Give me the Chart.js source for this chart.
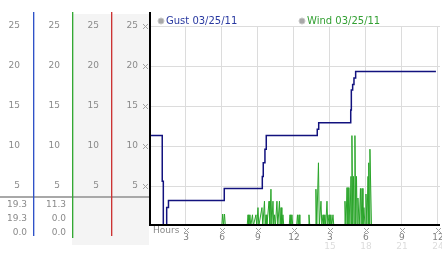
<!DOCTYPE html>
<html>
<head>
<meta charset="utf-8">
<script src="https://cdn.jsdelivr.net/npm/chart.js@4"></script>
<style>
  body { margin: 0; background: #fff; }
  canvas { display: block; }
</style>
</head>
<body>
<canvas id="chart" width="442" height="253"></canvas>
<script>
// gust: step line, value changes at these hours
const gustHours  = [0, 1.02, 1.11, 1.39, 1.54, 6.19, 9.36, 9.44, 9.58, 9.69, 13.94, 14.06, 16.73, 16.78, 16.89, 17.0, 17.14, 23.83];
const gustValues = [11.3, 5.6, 0, 2.3, 3.2, 4.7, 6.2, 7.9, 9.6, 11.3, 12.1, 12.9, 14.5, 17.0, 17.7, 18.5, 19.3, 19.3];

// wind: spiky samples
const windHours = [
  0, 5.99, 6.06, 6.13, 6.21, 6.28,
  8.10, 8.17, 8.24, 8.33, 8.40, 8.54, 8.61, 8.83, 8.90,
  9.00, 9.07, 9.33, 9.40, 9.54, 9.60, 9.67, 9.74, 9.92, 9.99,
  10.08, 10.15, 10.25, 10.31, 10.38, 10.45, 10.58, 10.65, 10.79, 10.85, 10.92, 10.99, 11.08, 11.15,
  11.60, 11.67, 11.74, 11.83, 11.90, 12.22, 12.29, 12.35, 12.42, 12.49,
  13.18, 13.25, 13.32, 13.76, 13.83, 13.90, 14.04, 14.11, 14.25, 14.32,
  14.42, 14.49, 14.58, 14.65, 14.75, 14.82, 14.92, 14.99, 15.08, 15.15, 15.25, 15.32,
  16.18, 16.25, 16.33, 16.42, 16.50, 16.58, 16.66, 16.75, 16.79, 16.83, 16.90,
  16.96, 17.02, 17.08, 17.15, 17.21, 17.27, 17.33, 17.44, 17.54, 17.60, 17.67, 17.75,
  17.83, 17.92, 18.00, 18.08, 18.17, 18.21, 18.25, 18.29, 18.33, 18.46, 24.0
];
const windValues = [
  0, 0, 1.5, 0, 1.5, 0,
  0, 1.4, 0, 1.4, 0, 1.4, 0, 1.4, 0,
  2.3, 0, 2.3, 0, 3.1, 0, 1.4, 0, 3.1, 0,
  4.6, 0, 3.1, 0, 1.4, 0, 3.1, 0, 3.1, 0, 2.3, 0, 1.4, 0,
  0, 1.4, 0, 1.4, 0, 0, 1.4, 0, 1.4, 0,
  0, 1.4, 0, 0, 4.6, 0, 7.9, 0, 3.1, 0,
  1.4, 0, 1.4, 0, 3.1, 0, 1.4, 0, 1.4, 0, 1.4, 0,
  0, 3.1, 0, 4.8, 0, 4.8, 0, 6.2, 0, 11.3, 0,
  6.2, 0, 11.3, 0, 6.2, 0, 3.5, 0, 4.7, 0, 4.7, 0,
  2.3, 0, 4.0, 0, 6.2, 0, 7.9, 0, 9.6, 0, 0
];

const yTicks = [5, 10, 15, 20, 25];
const xTicks = [3, 6, 9, 12, 15, 18, 21, 24];
const xTickLabels = ['3', '6', '9', '12', '3', '6', '9', '12'];
const x2Ticks = [15, 18, 21, 24];
const x2TickLabels = ['15', '18', '21', '24'];

const gustSummary = ['19.3', '19.3', '0.0'];
const windSummary = ['11.3', '0.0', '0.0'];

const FONT = 'DejaVu Sans';
const X_MAX = 24.17;

const xMark = (ctx, cx, cy) => {
  ctx.fillStyle = '#a0a0a0';
  const pts = [[-2, -2], [2, -2], [-1, -1], [1, -1], [0, 0], [-1, 1], [1, 1], [-2, 2], [2, 2]];
  for (const [dx, dy] of pts) ctx.fillRect(Math.round(cx) + dx, Math.round(cy) + dy, 1, 1);
};

const leftAxis = (weight, width, pad, main) => ({
  type: 'linear',
  position: 'left',
  weight: weight,
  min: 0,
  max: 25,
  afterBuildTicks: (s) => { s.ticks = yTicks.map(v => ({ value: v })); },
  afterFit: (s) => { s.width = width; s.paddingTop = 0; s.paddingBottom = 0; },
  grid: main ? { color: '#dcdcdc', lineWidth: 1, drawTicks: false } : { display: false, drawTicks: false },
  border: { display: false },
  ticks: { color: '#8a8a8a', padding: pad, font: { family: FONT, size: 9 }, callback: (v) => String(v) }
});

const panelPlugin = {
  id: 'panel',
  beforeDraw(chart) {
    const ctx = chart.ctx;
    const s = chart.scales;
    ctx.save();
    ctx.fillStyle = '#fff';
    ctx.fillRect(0, 0, chart.width, chart.height);
    // grey columns 3 and 4
    ctx.fillStyle = '#f4f4f4';
    ctx.fillRect(s.yb.right, 14, s.y.right - s.yb.right - 1, 231);
    ctx.restore();
  },
  afterDraw(chart) {
    const ctx = chart.ctx;
    const s = chart.scales;
    const area = chart.chartArea;
    ctx.save();

    // separator line under the tick columns
    ctx.fillStyle = '#a8a8a8';
    ctx.fillRect(0, 196, s.y.right - 1, 2);

    // coloured column lines
    const cols = [[s.ya.right, '#2f52c8', 236], [s.yb.right, '#33a833', 238], [s.yc.right, '#cc3333', 236]];
    for (const [x, c, b] of cols) {
      ctx.fillStyle = c;
      ctx.fillRect(Math.round(x), 12, 1, b - 12);
      ctx.globalAlpha = 0.35;
      ctx.fillRect(Math.round(x) + 1, 12, 1, b - 12);
      ctx.globalAlpha = 1;
    }

    // black value axis and baseline
    ctx.fillStyle = '#000';
    ctx.fillRect(area.left - 1, 12, 2, area.bottom - 12);
    ctx.fillRect(area.left - 1, area.bottom - 2, area.right - area.left + 1, 2);

    // marks beside ticks
    for (const v of yTicks) xMark(ctx, area.left - 5, s.y.getPixelForValue(v));
    for (const v of xTicks) xMark(ctx, s.x.getPixelForValue(v), 230);

    ctx.font = '9px "' + FONT + '"';
    ctx.textBaseline = 'middle';
    ctx.fillStyle = '#8a8a8a';
    ctx.textAlign = 'left';
    ctx.fillText('Hours', area.left + 3, 231);

    // summary numbers
    ctx.textAlign = 'right';
    const rows = [205, 219, 233];
    gustSummary.forEach((t, i) => ctx.fillText(t, s.ya.right - 6, rows[i]));
    windSummary.forEach((t, i) => ctx.fillText(t, s.yb.right - 6, rows[i]));

    // legend
    ctx.font = '10px "' + FONT + '"';
    ctx.textAlign = 'left';
    const legendPos = [[161, '#2838a0'], [302, '#33a033']];
    chart.data.datasets.forEach((ds, i) => {
      const [lx, col] = legendPos[i];
      ctx.beginPath();
      ctx.arc(lx, 21, 3, 0, Math.PI * 2);
      ctx.fillStyle = '#a8a8a8';
      ctx.fill();
      ctx.strokeStyle = '#c8c8c8';
      ctx.lineWidth = 1;
      ctx.stroke();
      ctx.fillStyle = col;
      ctx.fillText(ds.label, lx + 5, 21);
    });
    ctx.restore();
  }
};

new Chart(document.getElementById('chart'), {
  type: 'line',
  data: {
    datasets: [
      {
        label: 'Gust 03/25/11',
        data: gustHours.map((h, i) => ({ x: h, y: gustValues[i] })),
        stepped: 'before',
        borderColor: '#12127e',
        borderWidth: 1.5,
        pointRadius: 0,
        xAxisID: 'x',
        yAxisID: 'y'
      },
      {
        label: 'Wind 03/25/11',
        data: windHours.map((h, i) => ({ x: h, y: windValues[i] })),
        borderColor: '#2aa52a',
        borderWidth: 1,
        pointRadius: 0,
        tension: 0,
        xAxisID: 'x',
        yAxisID: 'y'
      }
    ]
  },
  options: {
    responsive: false,
    animation: false,
    layout: { padding: { left: 0, top: 26, right: 2, bottom: 0 } },
    plugins: { legend: { display: false }, tooltip: { enabled: false } },
    scales: {
      x: {
        type: 'linear',
        position: 'bottom',
        weight: 0,
        min: 0,
        max: X_MAX,
        afterBuildTicks: (s) => { s.ticks = xTicks.map(v => ({ value: v })); },
        afterFit: (s) => { s.height = 15; s.paddingLeft = 0; s.paddingRight = 0; },
        grid: { color: '#dcdcdc', lineWidth: 1, drawTicks: false },
        border: { display: false },
        ticks: {
          color: '#808080', padding: 6, autoSkip: false, maxRotation: 0,
          font: { family: FONT, size: 9 },
          callback: (v, i) => xTickLabels[i]
        }
      },
      x2: {
        type: 'linear',
        position: 'bottom',
        weight: 1,
        min: 0,
        max: X_MAX,
        afterBuildTicks: (s) => { s.ticks = x2Ticks.map(v => ({ value: v })); },
        afterFit: (s) => { s.height = 12; s.paddingLeft = 0; s.paddingRight = 0; },
        grid: { display: false, drawTicks: false },
        border: { display: false },
        ticks: {
          color: '#dcdcdc', padding: 0, autoSkip: false, maxRotation: 0,
          font: { family: FONT, size: 9 },
          callback: (v, i) => x2TickLabels[i]
        }
      },
      ya: leftAxis(3, 33, 13, false),
      yb: leftAxis(2, 39, 12, false),
      yc: leftAxis(1, 39, 12, false),
      y: leftAxis(0, 39, 12, true)
    }
  },
  plugins: [panelPlugin]
});
</script>
</body>
</html>
